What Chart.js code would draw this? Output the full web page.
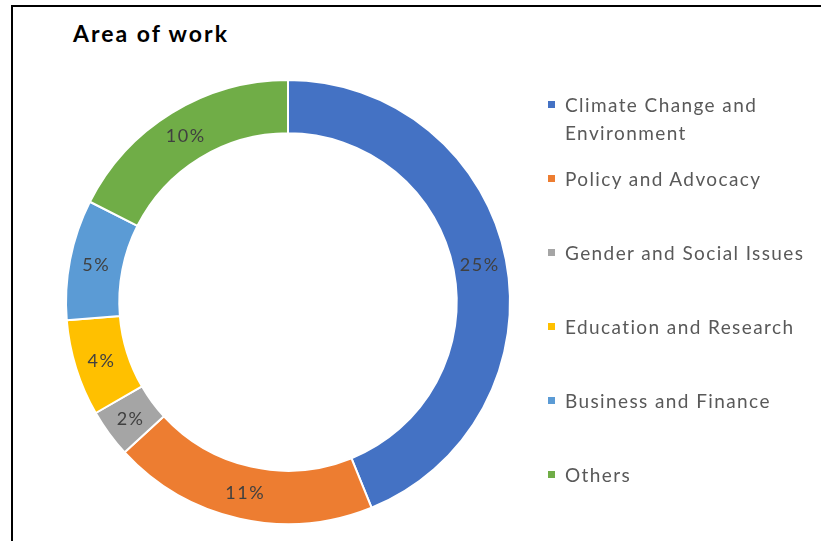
<!DOCTYPE html>
<html>
<head>
<meta charset="utf-8">
<title>Area of work</title>
<script src="https://cdn.jsdelivr.net/npm/chart.js@4.4.0/dist/chart.umd.min.js"></script>
<style>
    body { margin: 0; background: #fff; font-family: Lato, "Noto Sans", sans-serif; }
    #wrap { position: relative; width: 821px; height: 541px; overflow: hidden; }
    #frame { position: absolute; left: 11px; top: 5px; right: -10px; bottom: -10px;
             border-left: 2px solid #000; border-top: 2px solid #000; }
    #title { position: absolute; left: 73px; top: 19px; font-size: 23px; font-weight: bold;
             letter-spacing: 2px; color: #000; }
    #myChart { position: absolute; left: 0; top: 0; }
    .item { position: absolute; left: 548px; width: 270px; }
    .box { position: absolute; left: 0; top: 10px; width: 7px; height: 7px; }
    .txt { margin-left: 17px; font-size: 19px; line-height: 28px; letter-spacing: 1.4px; color: #595959; }
</style>
</head>
<body>
<div id="wrap">
    <div id="frame"></div>
    <div id="title">Area of work</div>
    <canvas id="myChart" width="821" height="541"></canvas>
    <div id="legend"></div>
</div>
<script>
const categories = [
    "Climate Change and Environment",
    "Policy and Advocacy",
    "Gender and Social Issues",
    "Education and Research",
    "Business and Finance",
    "Others"
];
const shares = [25, 11, 2, 4, 5, 10];
const colors = ["#4472C4", "#ED7D31", "#A5A5A5", "#FFC000", "#5B9BD5", "#70AD47"];

// percentage text in the middle of each ring segment
const sliceLabels = {
    id: "sliceLabels",
    afterDatasetsDraw(chart) {
        let ctx = chart.ctx;
        let meta = chart.getDatasetMeta(0);
        ctx.save();
        ctx.font = "18px Lato, 'Noto Sans', sans-serif";
        ctx.letterSpacing = "1.5px";
        ctx.fillStyle = "#404040";
        ctx.textAlign = "center";
        ctx.textBaseline = "middle";
        for (let i = 0; i < meta.data.length; i++) {
            let pos = meta.data[i].tooltipPosition();
            ctx.fillText(chart.data.datasets[0].data[i] + "%", pos.x, pos.y + 1);
        }
        ctx.restore();
    }
};

const myChart = new Chart(document.getElementById("myChart"), {
    type: "doughnut",
    data: {
        labels: categories,
        datasets: [{
            data: shares,
            backgroundColor: colors,
            borderColor: "#ffffff",
            borderWidth: 2
        }]
    },
    options: {
        responsive: false,
        animation: false,
        cutout: "76%",
        layout: { padding: { left: 65, right: 310, top: 79, bottom: 16 } },
        plugins: {
            legend: { display: false },
            tooltip: { enabled: false }
        }
    },
    plugins: [sliceLabels]
});

// legend on the right, one slot per category
let legend = document.getElementById("legend");
for (let i = 0; i < categories.length; i++) {
    let item = document.createElement("div");
    item.className = "item";
    item.style.top = (91 + i * 74) + "px";
    let box = document.createElement("div");
    box.className = "box";
    box.style.background = colors[i];
    let txt = document.createElement("div");
    txt.className = "txt";
    txt.textContent = categories[i];
    item.appendChild(box);
    item.appendChild(txt);
    legend.appendChild(item);
}
</script>
</body>
</html>
